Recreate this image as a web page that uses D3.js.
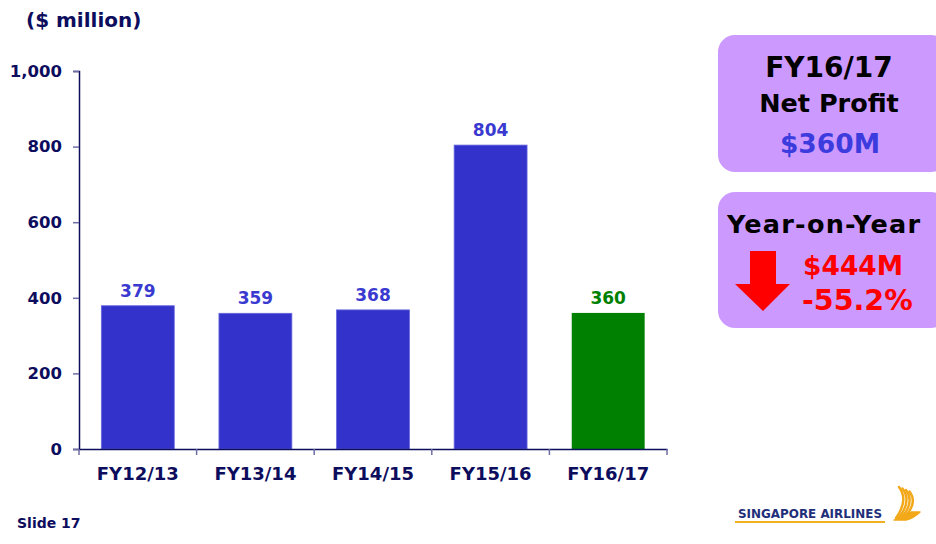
<!DOCTYPE html>
<html>
<head>
<meta charset="utf-8">
<script src="https://cdn.jsdelivr.net/npm/d3@7"></script>
<style>
  body { margin: 0; background: #fff; }
  svg { display: block; font-family: "DejaVu Sans", Verdana, sans-serif; font-weight: bold; }
</style>
</head>
<body>
<div id="chart"></div>
<script>
// data
var years = ["FY12/13", "FY13/14", "FY14/15", "FY15/16", "FY16/17"];
var profit = [379, 359, 368, 804, 360];
var yTicks = [0, 200, 400, 600, 800, 1000];

var width = 936, height = 544;
var navy = "#0d0d5e";

var svg = d3.select("#chart").append("svg")
    .attr("width", width)
    .attr("height", height);

var x = d3.scaleBand()
    .domain(years)
    .range([79, 667])
    .paddingInner(0.38)
    .paddingOuter(0.19);

var y = d3.scaleLinear()
    .domain([0, 1000])
    .range([449, 71]);

// title
svg.append("text")
    .attr("x", 26).attr("y", 27)
    .attr("font-size", 20)
    .attr("fill", navy)
    .text("($ million)");

// y axis
var yAxis = svg.append("g")
    .attr("transform", "translate(79,0)")
    .call(d3.axisLeft(y).tickValues(yTicks).tickSize(6).tickPadding(11)
        .tickFormat(d3.format(",")));
yAxis.select(".domain").attr("stroke", navy).attr("stroke-width", 1.5);
yAxis.selectAll(".tick line").attr("stroke", "#6d6da6").attr("stroke-width", 1.5);
yAxis.selectAll(".tick text")
    .attr("fill", navy)
    .attr("font-size", 16.5)
    .attr("font-family", "DejaVu Sans")
    .attr("font-weight", "bold");

// bars
svg.selectAll("rect.bar")
    .data(years)
    .enter().append("rect")
    .attr("class", "bar")
    .attr("x", function (d) { return x(d); })
    .attr("y", function (d, i) { return y(profit[i]); })
    .attr("width", x.bandwidth())
    .attr("height", function (d, i) { return y(0) - y(profit[i]); })
    .attr("fill", function (d, i) { return i === years.length - 1 ? "#008000" : "#3333cc"; })
    .attr("stroke", function (d, i) { return i === years.length - 1 ? "none" : "#6666dd"; })
    .attr("stroke-width", 0.8);

// value labels
svg.selectAll("text.val")
    .data(years)
    .enter().append("text")
    .attr("class", "val")
    .attr("x", function (d) { return x(d) + x.bandwidth() / 2; })
    .attr("y", function (d, i) { return y(profit[i]) - 9; })
    .attr("text-anchor", "middle")
    .attr("font-size", 17)
    .attr("fill", function (d, i) { return i === years.length - 1 ? "#008000" : "#3a3ad0"; })
    .text(function (d, i) { return profit[i]; });

// x axis
var xAxis = svg.append("g")
    .attr("transform", "translate(0," + y(0) + ")")
    .call(d3.axisBottom(x).tickSize(0).tickPadding(18).tickSizeOuter(0));
xAxis.select(".domain").attr("stroke", navy).attr("stroke-width", 1.5);
xAxis.selectAll(".tick text")
    .attr("fill", navy)
    .attr("font-size", 18)
    .attr("font-family", "DejaVu Sans")
    .attr("font-weight", "bold");

// category boundary ticks
var edges = years.map(function (d) { return x(d) - x.step() * x.paddingInner() / 2; });
edges.push(x.range()[1]);
edges[0] = x.range()[0];
xAxis.selectAll("line.edge")
    .data(edges)
    .enter().append("line")
    .attr("class", "edge")
    .attr("x1", function (d) { return d; }).attr("x2", function (d) { return d; })
    .attr("y1", 0).attr("y2", 6)
    .attr("stroke", "#6d6da6").attr("stroke-width", 1.5);

// right-hand boxes
var box = "#cc99ff";
svg.append("rect").attr("x", 718).attr("y", 35).attr("width", 230).attr("height", 137)
    .attr("rx", 17).attr("fill", box);
svg.append("rect").attr("x", 718).attr("y", 192).attr("width", 230).attr("height", 136)
    .attr("rx", 17).attr("fill", box);

svg.append("text").attr("x", 829).attr("y", 77).attr("text-anchor", "middle")
    .attr("font-size", 28).attr("fill", "#000").text("FY16/17");
svg.append("text").attr("x", 829).attr("y", 112).attr("text-anchor", "middle")
    .attr("font-size", 25.5).attr("fill", "#000").text("Net Profit");
svg.append("text").attr("x", 830).attr("y", 153).attr("text-anchor", "middle")
    .attr("font-size", 26.5).attr("fill", "#3c3cde").text("$" + profit[profit.length - 1] + "M");

svg.append("text").attr("x", 727).attr("y", 233)
    .attr("font-size", 25.5).attr("fill", "#000")
    .attr("textLength", 193).attr("lengthAdjust", "spacing")
    .text("Year-on-Year");

var diff = profit[3] - profit[4];
var pct = (diff / profit[3] * 100).toFixed(1);
svg.append("path")
    .attr("d", "M750,251 L776,251 L776,284 L790,284 L763,311 L735,284 L750,284 Z")
    .attr("fill", "#ff0000");
svg.append("text").attr("x", 803).attr("y", 275)
    .attr("font-size", 26.5).attr("fill", "#ff0000").text("$" + diff + "M");
svg.append("text").attr("x", 802).attr("y", 310)
    .attr("font-size", 28.5).attr("fill", "#ff0000").text("-" + pct + "%");

// footer
svg.append("text").attr("x", 17).attr("y", 528)
    .attr("font-size", 14).attr("fill", navy).text("Slide 17");

// logo
svg.append("text").attr("x", 738).attr("y", 518)
    .attr("font-size", 12.5).attr("fill", "#1f2f7a")
    .attr("textLength", 144).attr("lengthAdjust", "spacingAndGlyphs")
    .text("SINGAPORE AIRLINES");
svg.append("rect").attr("x", 735).attr("y", 521).attr("width", 150).attr("height", 2)
    .attr("fill", "#f0b020");
var wing = svg.append("g").attr("fill", "none").attr("stroke", "#f2a818").attr("stroke-width", 2.4)
    .attr("stroke-linecap", "round").attr("stroke-linejoin", "round");
[0, 1, 2, 3].forEach(function (i) {
    wing.append("path")
        .attr("d", "M" + (899 + i * 3.5) + "," + (487 + i * 1.5) +
            " Q" + (909 + i * 3) + "," + (500 + i) + " " + (896 + i * 3) + "," + (518 - i * 0.5));
});
wing.append("path").attr("d", "M894,520 L906,520 Q914,518 920,512 L911,512 Q905,516 900,515")
    .attr("fill", "#f2a818").attr("stroke-width", 1.5);
</script>
</body>
</html>
